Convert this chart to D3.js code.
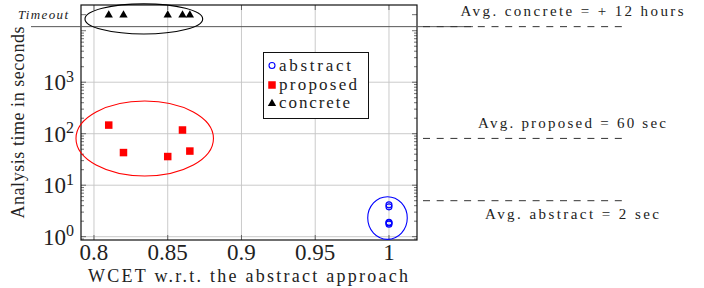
<!DOCTYPE html>
<html>
<head>
<meta charset="utf-8">
<script src="https://d3js.org/d3.v7.min.js"></script>
<style>
  body { margin: 0; background: #fff; }
</style>
</head>
<body>
<div id="chart"></div>
<script>
// ---- data ----
var benchmarks = ["b1", "b2", "b3", "b4", "b5"]
var proposedX = [0.81, 0.82, 0.85, 0.86, 0.865]
var proposedY = [147, 43, 36, 118, 46]
var concreteX = [0.81, 0.82, 0.85, 0.86, 0.865]
var timeoutValue = 20500          // where "Timeout" results are plotted
var separatorValue = 12000        // line between the log range and the timeout band
var abstractX = [1, 1, 1, 1, 1]
var abstractY = [3.8, 4.15, 1.75, 1.85, 1.9]
var xTicks = [0.8, 0.85, 0.9, 0.95, 1]
var yTicks = [1, 10, 100, 1000]
var avgLabels = ["Avg. concrete = + 12 hours", "Avg. proposed = 60 sec", "Avg. abstract = 2 sec"]
var avgValues = [12000, 81, 5]
// ellipses: [xmin, xmax, ymin, ymax] in data units
var groupEllipses = [
    {name: "concrete", x: [0.7939, 0.8737], y: [8645, 33300], color: "#000"},
    {name: "proposed", x: [0.7878, 0.8810], y: [15.1, 431], color: "#ff0000"},
    {name: "abstract", x: [0.9856, 1.0124], y: [0.888, 5.97], color: "#0000ff"}
]
var legendItems = ["abstract", "proposed", "concrete"]

// pick the first serif face that is really installed
function hasFont(name) {
    var c = document.createElement("canvas").getContext("2d")
    var s = "WCET w.r.t. abstract 0123456789"
    c.font = "40px monospace"
    var a = c.measureText(s).width
    c.font = "40px '" + name + "', monospace"
    return c.measureText(s).width != a
}
var serifList = ["Liberation Serif", "DejaVu Serif", "Times New Roman", "Noto Serif", "Tinos", "FreeSerif"]
var serif = serifList.filter(hasFont).map(f => "'" + f + "'").concat(["serif"]).join(", ")

// ---- layout ----
var width = 704, height = 288
var plot = {left: 81, right: 417, top: 5, bottom: 240}

var svg = d3.select("#chart").append("svg")
    .attr("width", width)
    .attr("height", height)
    .style("font-family", serif)

var x = d3.scaleLinear()
    .domain([0.7912, 1.019])
    .range([plot.left, plot.right])

var y = d3.scaleLog()
    .domain([0.862, 31600])
    .range([plot.bottom, plot.top])

// grid
svg.append("g").selectAll("line")
    .data(xTicks)
    .enter().append("line")
    .attr("x1", d => x(d)).attr("x2", d => x(d))
    .attr("y1", plot.top).attr("y2", plot.bottom)
    .attr("stroke", "#c4c4c4").attr("stroke-width", 0.9)

svg.append("g").selectAll("line")
    .data(yTicks)
    .enter().append("line")
    .attr("x1", plot.left).attr("x2", plot.right)
    .attr("y1", d => y(d)).attr("y2", d => y(d))
    .attr("stroke", "#c4c4c4").attr("stroke-width", 0.9)

// ticks (inward, both sides)
var minor = []
for (let e = -1; e <= 3; e++) {
    for (let m = 2; m <= 9; m++) {
        let v = m * Math.pow(10, e)
        if (v > 0.862 && v < separatorValue) minor.push(v)
    }
}
var major = [1, 10, 100, 1000, 10000, timeoutValue]

var tickG = svg.append("g").attr("stroke", "#333").attr("stroke-width", 0.7)
major.forEach(function (v) {
    tickG.append("line").attr("x1", plot.left).attr("x2", plot.left + 5).attr("y1", y(v)).attr("y2", y(v))
    tickG.append("line").attr("x1", plot.right).attr("x2", plot.right - 5).attr("y1", y(v)).attr("y2", y(v))
})
minor.forEach(function (v) {
    tickG.append("line").attr("x1", plot.left).attr("x2", plot.left + 3).attr("y1", y(v)).attr("y2", y(v))
    tickG.append("line").attr("x1", plot.right).attr("x2", plot.right - 3).attr("y1", y(v)).attr("y2", y(v))
})
xTicks.forEach(function (v) {
    tickG.append("line").attr("x1", x(v)).attr("x2", x(v)).attr("y1", plot.bottom).attr("y2", plot.bottom - 5)
    tickG.append("line").attr("x1", x(v)).attr("x2", x(v)).attr("y1", plot.top).attr("y2", plot.top + 5)
})

// frame
svg.append("rect")
    .attr("x", plot.left).attr("y", plot.top)
    .attr("width", plot.right - plot.left).attr("height", plot.bottom - plot.top)
    .attr("fill", "none").attr("stroke", "#111").attr("stroke-width", 1.2)

// tick labels
svg.append("g").selectAll("text")
    .data(xTicks)
    .enter().append("text")
    .attr("x", d => x(d))
    .attr("y", 260)
    .attr("text-anchor", "middle")
    .attr("font-size", 23)
    .attr("fill", "#222")
    .text(d => d3.format("")(d))

var yLab = svg.append("g").selectAll("text")
    .data(yTicks)
    .enter().append("text")
    .attr("x", 74)
    .attr("y", d => y(d) + 8)
    .attr("text-anchor", "end")
    .attr("font-size", 23)
    .attr("fill", "#222")
yLab.append("tspan").text("10")
yLab.append("tspan").attr("font-size", 16).attr("dy", -8.5).text(d => Math.round(Math.log10(d)))

svg.append("text")
    .attr("x", 68).attr("y", y(timeoutValue) + 4)
    .attr("text-anchor", "end")
    .attr("font-size", 13)
    .attr("font-style", "italic")
    .attr("textLength", 50)
    .attr("fill", "#222")
    .text("Timeout")

// axis titles
svg.append("text")
    .attr("x", 248).attr("y", 282)
    .attr("text-anchor", "middle")
    .attr("font-size", 18)
    .attr("textLength", 320)
    .attr("fill", "#222")
    .text("WCET w.r.t. the abstract approach")

svg.append("text")
    .attr("transform", "translate(24," + ((plot.top + plot.bottom) / 2) + ") rotate(-90)")
    .attr("text-anchor", "middle")
    .attr("font-size", 18)
    .attr("textLength", 192)
    .attr("fill", "#222")
    .text("Analysis time in seconds")

// separator + average lines
svg.append("line")
    .attr("x1", 31).attr("x2", 473)
    .attr("y1", y(separatorValue)).attr("y2", y(separatorValue))
    .attr("stroke", "#555").attr("stroke-width", 1)

svg.append("g").selectAll("line")
    .data(avgValues)
    .enter().append("line")
    .attr("x1", 423).attr("x2", 622)
    .attr("y1", d => y(d)).attr("y2", d => y(d))
    .attr("stroke", "#333").attr("stroke-width", 1)
    .attr("stroke-dasharray", "7,6.7")

var avgOffset = [-11, -10, 18.5]
var avgLen = [223, 188, 174]
svg.append("g").selectAll("text")
    .data(avgLabels)
    .enter().append("text")
    .attr("x", 572)
    .attr("y", (d, i) => y(avgValues[i]) + avgOffset[i])
    .attr("text-anchor", "middle")
    .attr("font-size", 15)
    .attr("textLength", (d, i) => avgLen[i])
    .attr("fill", "#222")
    .text(d => d)

// group ellipses
svg.append("g").selectAll("ellipse")
    .data(groupEllipses)
    .enter().append("ellipse")
    .attr("cx", d => (x(d.x[0]) + x(d.x[1])) / 2)
    .attr("cy", d => (y(d.y[0]) + y(d.y[1])) / 2)
    .attr("rx", d => (x(d.x[1]) - x(d.x[0])) / 2)
    .attr("ry", d => (y(d.y[0]) - y(d.y[1])) / 2)
    .attr("fill", "none")
    .attr("stroke", d => d.color)
    .attr("stroke-width", 1.1)

// marks
var sq = 7.5
svg.append("g").selectAll("rect")
    .data(benchmarks)
    .enter().append("rect")
    .attr("x", (d, i) => x(proposedX[i]) - sq / 2)
    .attr("y", (d, i) => y(proposedY[i]) - sq / 2)
    .attr("width", sq).attr("height", sq)
    .attr("fill", "#ff0000")

var tri = d3.symbol().type(d3.symbolTriangle).size(30)
svg.append("g").selectAll("path")
    .data(benchmarks)
    .enter().append("path")
    .attr("d", tri)
    .attr("transform", (d, i) => "translate(" + x(concreteX[i]) + "," + (y(timeoutValue) + 0.5) + ")")
    .attr("fill", "#000")

svg.append("g").selectAll("circle")
    .data(benchmarks)
    .enter().append("circle")
    .attr("cx", (d, i) => x(abstractX[i]))
    .attr("cy", (d, i) => y(abstractY[i]))
    .attr("r", 3)
    .attr("fill", "none")
    .attr("stroke", "#0000ff")
    .attr("stroke-width", 1.1)

// legend
var legend = svg.append("g").attr("transform", "translate(263.5,52.5)")
legend.append("rect")
    .attr("width", 105).attr("height", 66)
    .attr("fill", "#fff").attr("stroke", "#111").attr("stroke-width", 1)

var rowY = [13, 32.5, 50.5]
var legLen = [72, 78, 71]
legendItems.forEach(function (name, i) {
    if (name == "abstract") {
        legend.append("circle").attr("cx", 8.5).attr("cy", rowY[i]).attr("r", 3)
            .attr("fill", "none").attr("stroke", "#0000ff").attr("stroke-width", 1.1)
    } else if (name == "proposed") {
        legend.append("rect").attr("x", 8.5 - sq / 2).attr("y", rowY[i] - sq / 2)
            .attr("width", sq).attr("height", sq).attr("fill", "#ff0000")
    } else {
        legend.append("path").attr("d", tri).attr("transform", "translate(8.5," + (rowY[i] + 0.5) + ")")
            .attr("fill", "#000")
    }
    legend.append("text")
        .attr("x", 15.5).attr("y", rowY[i] + 5)
        .attr("font-size", 17)
        .attr("textLength", legLen[i])
        .attr("fill", "#222")
        .text(name)
})
</script>
</body>
</html>
